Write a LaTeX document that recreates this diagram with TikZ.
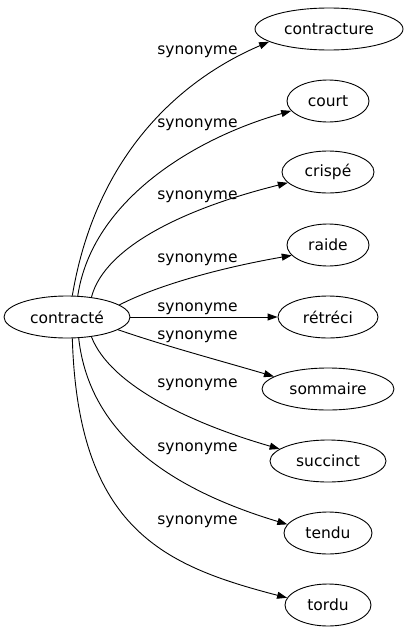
\documentclass[tikz,border=0pt]{standalone}
\usepackage{fontspec}
\setmainfont{DejaVu Sans}
\usetikzlibrary{shapes.geometric,arrows.meta}
\begin{document}
\begin{tikzpicture}[x=1pt,y=-1pt,
  every node/.style={font=\fontsize{15.5}{18}\selectfont},
  word/.style={ellipse,draw,line width=0.9pt,inner sep=0pt,minimum height=42pt},
  rel/.style={draw,line width=0.9pt,-{Triangle[length=10pt,width=7pt]}},
  lab/.style={anchor=base,inner sep=0pt}]
\useasboundingbox (0,0) rectangle (406,635);
\node[word,minimum width=126pt] (contracte) at (67,317) {contracté};
\node[word,minimum width=148pt] (contracture) at (329,29) {contracture};
\node[word,minimum width=82pt] (court) at (328,101) {court};
\node[word,minimum width=92pt] (crispe) at (328,172) {crispé};
\node[word,minimum width=82pt] (raide) at (328,245) {raide};
\node[word,minimum width=100pt] (retreci) at (328,317) {rétréci};
\node[word,minimum width=132pt] (sommaire) at (328,389) {sommaire};
\node[word,minimum width=116pt] (succinct) at (328,461) {succinct};
\node[word,minimum width=88pt] (tendu) at (328,533) {tendu};
\node[word,minimum width=86pt] (tordu) at (328,605) {tordu};

\draw[rel] (contracte.76) .. controls (95,160) and (175,82) .. (contracture.192);
\draw[rel] (contracte.63) .. controls (92,200) and (195,138) .. (court.195);
\draw[rel] (contracte.39) .. controls (105,245) and (190,207) .. (crispe.195);
\draw[rel] (contracte.13) .. controls (160,284) and (225,267) .. (raide.196);
\draw[rel] (contracte.0) -- (retreci.180);
\draw[rel] (contracte.-14) .. controls (165,346) and (225,362) .. (sommaire.167);
\draw[rel] (contracte.-39) .. controls (110,385) and (190,423) .. (succinct.166);
\draw[rel] (contracte.-61) .. controls (90,440) and (180,492) .. (tendu.168);
\draw[rel] (contracte.-76) .. controls (78,530) and (165,566) .. (tordu.170);

\node[lab] (l1) at (197.5,54) {synonyme};
\node[lab] (l2) at (197.5,127) {synonyme};
\node[lab] (l3) at (197.5,199) {synonyme};
\node[lab] (l4) at (197.5,262) {synonyme};
\node[lab] (l5) at (197.5,311) {synonyme};
\node[lab] (l6) at (197.5,339) {synonyme};
\node[lab] (l7) at (197.5,387) {synonyme};
\node[lab] (l8) at (197.5,451) {synonyme};
\node[lab] (l9) at (197.5,524) {synonyme};
\end{tikzpicture}
\end{document}
